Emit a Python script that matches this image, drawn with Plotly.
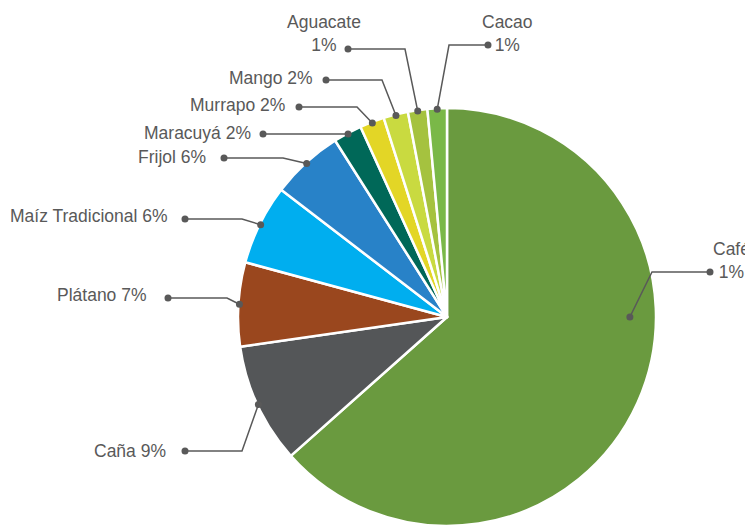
import math
import plotly.graph_objects as go

# ---- data ----
labels = ["Café", "Caña", "Plátano", "Maíz Tradicional", "Frijol", "Maracuyá",
          "Murrapo", "Mango", "Aguacate", "Cacao"]
values = [63.5, 9.3, 6.5, 6.2, 5.6, 2.2, 1.9, 1.9, 1.5, 1.5]
label_texts = ["Café<br>1%", "Caña 9%", "Plátano 7%", "Maíz Tradicional 6%", "Frijol 6%",
               "Maracuyá 2%", "Murrapo 2%", "Mango 2%", "Aguacate<br>1%", "Cacao<br>1%"]
colors = ["#6A9A3F", "#545658", "#9A471E", "#00AEEF", "#2882C8", "#006858",
          "#E3D626", "#C9DA40", "#A5C23F", "#7AB848"]

# ---- layout (window pixel geometry) ----
OFF = 8                      # default body margin of the html page
W, H = 753 - OFF, 526 - OFF  # figure size
CX, CY, R = 447, 317, 209
dot_pos = [(710, 272), (185, 451), (168, 298), (185, 219), (224, 158), (263, 134),
           (299, 107), (326, 80), (348, 49), (488, 45)]
elbow_x = [652, 242, 227, 242, 283, None, 357, 382, 405, 449]
text_pos = [(731, 260, "center"), (168, 451, "right"), (149, 295, "right"),
            (170, 216, "right"), (208, 157, "right"), (253, 133, "right"),
            (287, 105, "right"), (315, 78, "right"), (324, 33, "center"),
            (507, 33, "center")]
slice_dot_override = {0: (90.0, 0.875)}

FONT = "Liberation Sans, Arial, sans-serif"
FSIZE = 17.5
GRAY = "#595959"
DOT_R = 3.5


def px(x):
    return (x - OFF) / W


def py(y):
    return 1 - (y - OFF) / H


fig = go.Figure()
fig.add_trace(go.Pie(
    labels=labels, values=values, sort=False, direction="clockwise", rotation=0,
    marker=dict(colors=colors, line=dict(color="white", width=2.5)),
    textinfo="none", hoverinfo="label+percent", showlegend=False,
    domain=dict(x=[px(CX - R), px(CX + R)],
                y=[max(0.0, py(CY + R)), py(CY - R)]),
))

total = sum(values)
cum = 0.0
annotations, shapes = [], []
for i, v in enumerate(values):
    mid = (cum + v / 2) / total * 360.0
    cum += v
    ang, rf = slice_dot_override.get(i, (mid, 0.995))
    sx = CX + R * rf * math.sin(math.radians(ang))
    sy = CY - R * rf * math.cos(math.radians(ang))
    dx, dy = dot_pos[i]
    ex = elbow_x[i] if elbow_x[i] is not None else sx
    path = "M {:.5f},{:.5f} L {:.5f},{:.5f} L {:.5f},{:.5f}".format(
        px(sx), py(sy), px(ex), py(dy), px(dx), py(dy))
    shapes.append(dict(type="path", path=path, xref="paper", yref="paper",
                       line=dict(color=GRAY, width=1.5), layer="above"))
    for (cx, cy) in [(sx, sy), (dx, dy)]:
        shapes.append(dict(type="circle", xref="paper", yref="paper",
                           x0=px(cx - DOT_R), x1=px(cx + DOT_R),
                           y0=py(cy + DOT_R), y1=py(cy - DOT_R),
                           fillcolor=GRAY, line=dict(width=0), layer="above"))
    tx, ty, al = text_pos[i]
    annotations.append(dict(
        x=px(tx), y=py(ty), xref="paper", yref="paper", text=label_texts[i],
        showarrow=False, xanchor=al, yanchor="middle", align="center",
        font=dict(family=FONT, size=FSIZE, color=GRAY)))

fig.update_layout(
    width=W, height=H, margin=dict(l=0, r=0, t=0, b=0),
    paper_bgcolor="white", plot_bgcolor="white",
    annotations=annotations, shapes=shapes,
)
fig.write_html("out.html")
